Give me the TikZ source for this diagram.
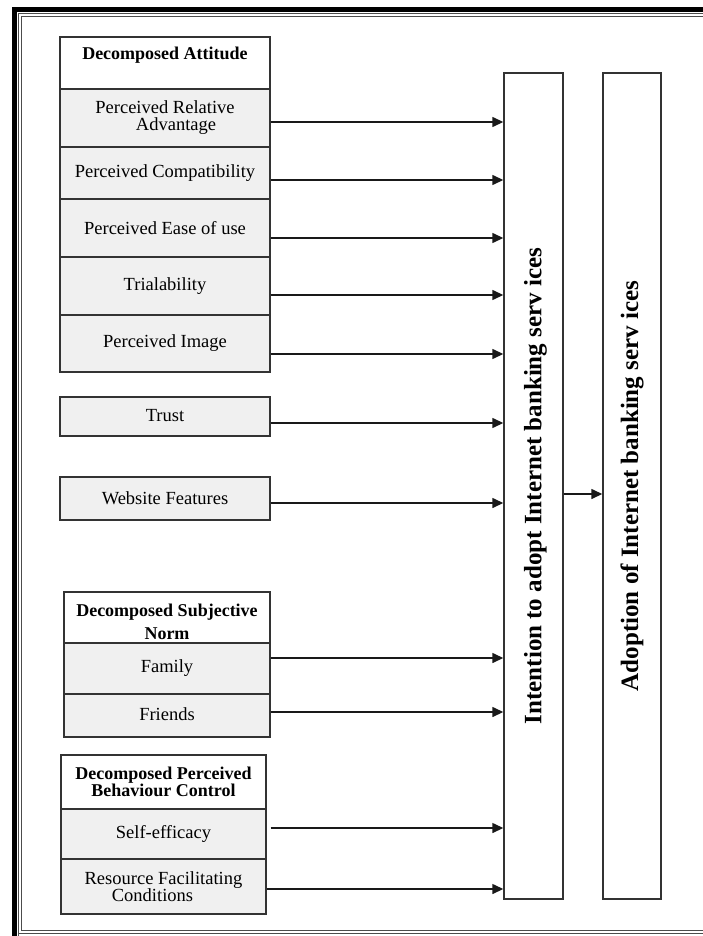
\documentclass[tikz,border=0pt]{standalone}
\usepackage{fontspec}
\setmainfont{Liberation Serif}
\usetikzlibrary{arrows.meta}
\begin{document}
\begin{tikzpicture}[x=1pt,y=-1pt,
  box/.style={draw=black!80, line width=1.4pt, fill=gray!12, minimum width=210pt, inner sep=0pt, align=center, font=\fontsize{18.5}{17}\selectfont},
  hdr/.style={box, fill=white},
  hdrtext/.style={align=center, inner sep=0pt, font=\fontsize{18}{17}\selectfont\bfseries},
  big/.style={draw=black!80, line width=1.4pt, fill=white, minimum width=59pt, minimum height=826pt, inner sep=0pt},
  vtext/.style={rotate=90, inner sep=0pt, font=\fontsize{25}{28}\selectfont\bfseries},
  arr/.style={draw=black!90, line width=1.4pt, -{Triangle[length=11pt,width=10pt]}},
  frthin/.style={draw=black!70, line width=1pt}
]
\useasboundingbox (0,0) rectangle (702,936);
% frame
\draw[line width=5pt, black] (14.5,945) -- (14.5,9.5) -- (720,9.5);
\draw[frthin] (18,945) -- (18,14) -- (720,14);
\draw[frthin] (21,930) -- (21,17) -- (720,17);
\draw[frthin] (18,933) -- (720,933);
\draw[frthin] (21,930) -- (720,930);

% Decomposed Attitude
\node[hdr, minimum height=52pt] (da) at (165,63) {};
\node[hdrtext] (dat) at ([yshift=8pt]da.center) {Decomposed Attitude};
\node[box, minimum height=58pt] (pra) at (165,118) {Perceived Relative\\\hspace*{22pt}Advantage};
\node[box, minimum height=52pt] (pc) at (165,173) {\raisebox{-4pt}{Perceived Compatibility}};
\node[box, minimum height=58pt] (peu) at (165,228) {Perceived Ease of use};
\node[box, minimum height=58pt] (tri) at (165,286) {Trialability};
\node[box, minimum height=57pt] (pim) at (165,343.5) {Perceived Image};

\node[box, minimum height=39pt] (tru) at (165,416.5) {\raisebox{2pt}{Trust}};
\node[box, minimum height=43pt] (wf) at (165,498.5) {Website Features};

% Decomposed Subjective Norm
\node[hdr, minimum width=206pt, minimum height=51pt] (dsn) at (167,617.5) {};
\node[hdrtext] (dsnt) at ([yshift=-4pt]dsn.center) {Decomposed Subjective\\[6pt]Norm};
\node[box, minimum width=206pt, minimum height=51pt] (fam) at (167,668.5) {\raisebox{3pt}{Family}};
\node[box, minimum width=206pt, minimum height=43pt] (fri) at (167,715.5) {\raisebox{3pt}{Friends}};

% Decomposed Perceived Behaviour Control
\node[hdr, minimum width=205pt, minimum height=54pt] (dpb) at (163.5,782) {};
\node[hdrtext] (dpbt) at (dpb.center) {Decomposed Perceived\\Behaviour Control};
\node[box, minimum width=205pt, minimum height=50pt] (se) at (163.5,834) {\raisebox{5pt}{Self-efficacy}};
\node[box, minimum width=205pt, minimum height=55pt] (rfc) at (163.5,886.5) {Resource Facilitating\\Conditions\hspace*{22pt}};

% big boxes
\node[big] (int) at (533.5,486) {};
\node[vtext] (intt) at ([xshift=2pt]int.center) {Intention to adopt Internet banking serv ices};
\node[big, minimum width=58pt] (ado) at (632,486) {};
\node[vtext] (adot) at (ado.center) {Adoption of Internet banking serv ices};

% arrows
\draw[arr] ([yshift=-4pt]pra.east) -- ([yshift=-4pt]pra.east -| int.west);
\draw[arr] ([yshift=-7pt]pc.east) -- ([yshift=-7pt]pc.east -| int.west);
\draw[arr] ([yshift=-10pt]peu.east) -- ([yshift=-10pt]peu.east -| int.west);
\draw[arr] ([yshift=-9pt]tri.east) -- ([yshift=-9pt]tri.east -| int.west);
\draw[arr] ([yshift=-10.5pt]pim.east) -- ([yshift=-10.5pt]pim.east -| int.west);
\draw[arr] ([yshift=-6.5pt]tru.east) -- ([yshift=-6.5pt]tru.east -| int.west);
\draw[arr] ([yshift=-4.5pt]wf.east) -- ([yshift=-4.5pt]wf.east -| int.west);
\draw[arr] ([yshift=10.5pt]fam.east) -- ([yshift=10.5pt]fam.east -| int.west);
\draw[arr] ([yshift=3.5pt]fri.east) -- ([yshift=3.5pt]fri.east -| int.west);
\draw[arr] ([xshift=4pt,yshift=6pt]se.east) -- ([yshift=6pt]se.east -| int.west);
\draw[arr] ([yshift=-2.5pt]rfc.east) -- ([yshift=-2.5pt]rfc.east -| int.west);
\draw[arr] ([yshift=-8pt]int.east) -- ([yshift=-8pt]int.east -| ado.west);
\end{tikzpicture}
\end{document}
